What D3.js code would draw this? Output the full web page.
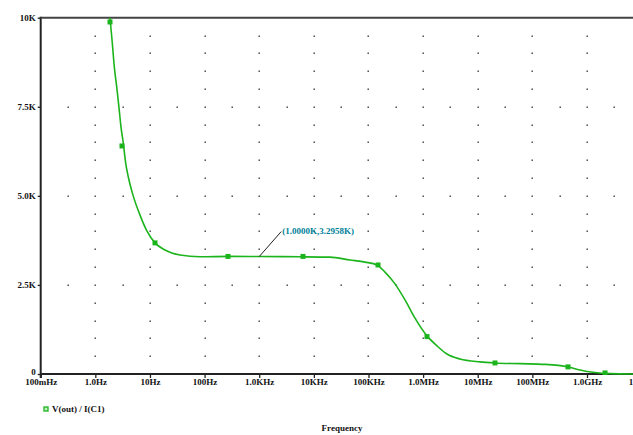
<!DOCTYPE html>
<html>
  <head>
    <meta charset="utf-8"/>
    <script type="text/javascript" src="https://cdn.jsdelivr.net/npm/d3@7/dist/d3.min.js"></script>
    <style type="text/css">

html, body {
  margin: 0;
  padding: 0;
  background: #fff;
}

svg text {
  font-family: "Liberation Serif", "DejaVu Serif", serif;
  font-weight: bold;
  font-size: 9px;
  fill: #111;
}

.curve {
  fill: none;
  stroke: #1cb41c;
  stroke-width: 1.6px;
}

    </style>
  </head>
  <body>
    <div id="chart"></div>
    <script type="text/javascript">

// Frequency (Hz) and V(out)/I(C1) in K
var freq = [1.705, 1.856, 2.045, 2.225, 2.462, 2.713, 2.951, 3.251, 3.596, 4.013,
  4.892, 6.573, 8.83, 12.37, 18.85, 35.5, 82.4, 291.9, 1000, 5578,
  19750, 45900, 86400, 143200, 200600, 305800, 466200, 710300, 1.178e6, 1.796e6,
  2.737e6, 4.735e6, 1.1e7, 2.07e7, 5.94e7, 1.70e8, 4.49e8, 7.44e8, 1.40e9, 2.64e9, 6.95e9];
var zval = [10.64, 9.99, 9.29, 8.62, 8.06, 7.47, 6.93, 6.48, 5.92, 5.53,
  5.02, 4.46, 4.01, 3.68, 3.48, 3.34, 3.29, 3.30, 3.2958, 3.29,
  3.28, 3.20, 3.14, 3.06, 2.86, 2.53, 2.08, 1.57, 1.07, 0.79,
  0.56, 0.42, 0.34, 0.31, 0.29, 0.27, 0.20, 0.11, 0.04, 0.01, 0];

// symbol positions drawn on the trace
var markFreq = [1.856, 3.077, 12.37, 268, 6330, 149400, 1.178e6, 2.07e7, 4.49e8, 2.14e9];
var markZ = [9.88, 6.40, 3.68, 3.30, 3.30, 3.06, 1.05, 0.31, 0.20, 0.03];

var xTicks = [0.1, 1, 10, 100, 1e3, 1e4, 1e5, 1e6, 1e7, 1e8, 1e9, 1e10];
var xTickLabels = ["100mHz", "1.0Hz", "10Hz", "100Hz", "1.0KHz", "10KHz", "100KHz",
  "1.0MHz", "10MHz", "100MHz", "1.0GHz", "10GHz"];
var yTicks = [0, 2.5, 5, 7.5, 10];
var yTickLabels = ["0", "2.5K", "5.0K", "7.5K", "10K"];

var cursorFreq = 1000, cursorZ = 3.2958;
var cursorLabel = "(1.0000K,3.2958K)";
var legendLabel = "V(out) / I(C1)";
var xTitle = "Frequency";

var W = 633, H = 435;
var mLeft = 40.7, mTop = 17.7, mBottom = 374;

var x = d3.scaleLog().domain([0.1, 1e10]).range([mLeft, mLeft + 11 * 54.63]);
var y = d3.scaleLinear().domain([0, 10]).range([mBottom, mTop]);

var svg = d3.select("#chart").append("svg")
    .attr("width", W)
    .attr("height", H);

svg.append("clipPath").attr("id", "plot")
  .append("rect")
    .attr("x", mLeft).attr("y", mTop)
    .attr("width", W - mLeft).attr("height", mBottom - mTop + 1);

// dotted grid: vertical columns at decades, rows at y ticks
var grid = svg.append("g").attr("fill", "#333");
xTicks.slice(1).forEach(function(f) {
  for (var v = 0.5; v < 10; v += 0.5) {
    grid.append("rect")
        .attr("x", Math.round(x(f)) - 0.5)
        .attr("y", Math.round(y(v)) - 0.5)
        .attr("width", 1.4).attr("height", 1.4);
  }
});
yTicks.slice(1, 4).forEach(function(v) {
  for (var i = 0; i < xTicks.length - 1; i++) {
    var mid = (x(xTicks[i]) + x(xTicks[i + 1])) / 2;
    grid.append("rect")
        .attr("x", Math.round(mid) - 0.5)
        .attr("y", Math.round(y(v)) - 0.5)
        .attr("width", 1.4).attr("height", 1.4);
  }
});

// axes
var xAxis = d3.axisBottom(x)
    .tickValues(xTicks)
    .tickSize(4)
    .tickFormat(function(d, i) { return xTickLabels[i]; });
var gx = svg.append("g")
    .attr("transform", "translate(0," + mBottom + ")")
    .call(xAxis);
gx.select(".domain").remove();
gx.append("line").attr("x1", mLeft).attr("x2", W).attr("stroke", "#222").attr("stroke-width", 2);
gx.selectAll(".tick line").attr("stroke", "#222").attr("stroke-width", 1.3);
gx.selectAll(".tick text").attr("dy", "0.55em").attr("y", 6)
    .attr("font-family", null).attr("font-size", null);

var yAxis = d3.axisLeft(y)
    .tickValues(yTicks)
    .tickSize(3)
    .tickFormat(function(d, i) { return yTickLabels[i]; });
var gy = svg.append("g")
    .attr("transform", "translate(" + mLeft + ",0)")
    .call(yAxis);
gy.select(".domain").remove();
gy.append("line").attr("y1", mTop - 1).attr("y2", mBottom + 4).attr("stroke", "#222").attr("stroke-width", 2);
gy.selectAll(".tick line").attr("stroke", "#222").attr("stroke-width", 1.3);
gy.selectAll(".tick text").attr("x", -5)
    .attr("dy", function(d) { return d === 0 ? "0.05em" : "0.32em"; })
    .attr("font-family", null).attr("font-size", null);

// top frame line
svg.append("line")
    .attr("x1", mLeft).attr("x2", W)
    .attr("y1", mTop).attr("y2", mTop)
    .attr("stroke", "#444").attr("stroke-width", 2);

// trace
var data = freq.map(function(f, i) { return [f, zval[i]]; });
var plot = svg.append("g").attr("clip-path", "url(#plot)");
plot.append("path")
    .datum(data)
    .attr("class", "curve")
    .attr("d", d3.line()
      .x(function(d) { return x(d[0]); })
      .y(function(d) { return y(d[1]); })
      .curve(d3.curveMonotoneX));

plot.selectAll(".mark")
    .data(markFreq)
  .enter().append("rect")
    .attr("class", "mark")
    .attr("x", function(d) { return x(d) - 2.5; })
    .attr("y", function(d, i) { return y(markZ[i]) - 2.5; })
    .attr("width", 5).attr("height", 5)
    .attr("fill", "#1cb41c");

// cursor annotation
var cx = x(cursorFreq), cy = y(cursorZ);
svg.append("line")
    .attr("x1", cx).attr("y1", cy)
    .attr("x2", cx + 22).attr("y2", cy - 25)
    .attr("stroke", "#222").attr("stroke-width", 1);
svg.append("text")
    .attr("x", cx + 23).attr("y", cy - 23)
    .style("fill", "#007f99")
    .text(cursorLabel);

// legend
svg.append("rect")
    .attr("x", 44).attr("y", 407)
    .attr("width", 4).attr("height", 4)
    .attr("fill", "#bff0bf").attr("stroke", "#1cb41c").attr("stroke-width", 1.3);
svg.append("text")
    .attr("x", 52).attr("y", 412)
    .text(legendLabel);

svg.append("text")
    .attr("x", 342).attr("y", 431)
    .attr("text-anchor", "middle")
    .text(xTitle);

    </script>
  </body>
</html>
